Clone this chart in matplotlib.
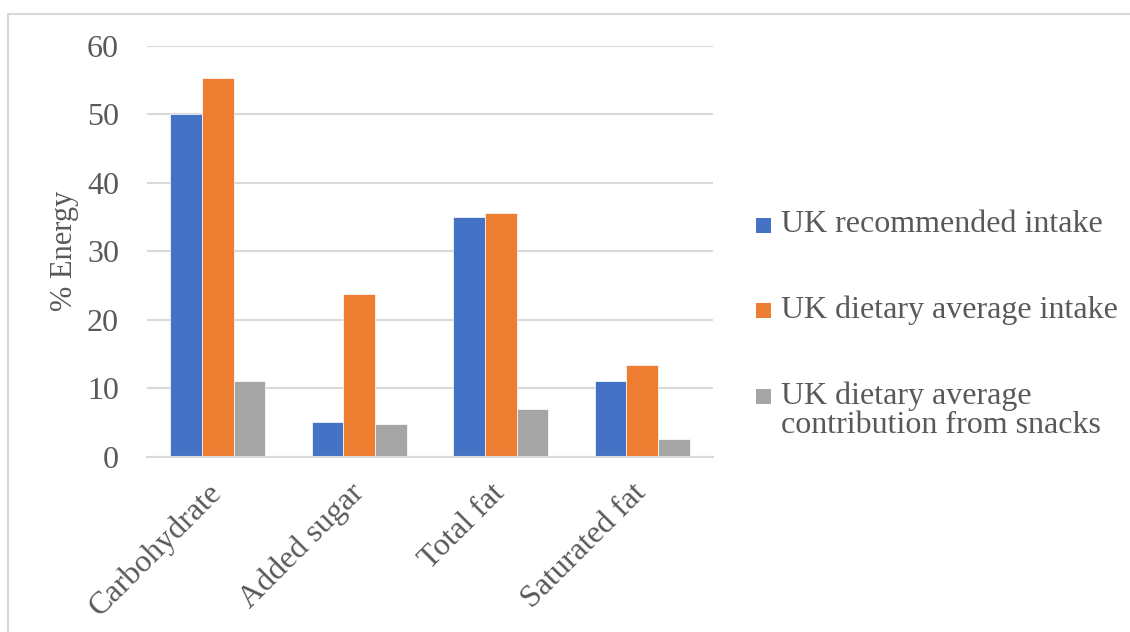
import numpy as np
import matplotlib.pyplot as plt
from matplotlib.patches import Rectangle

plt.rcParams["font.family"] = ["Liberation Serif", "DejaVu Serif"]

# -----------------------------
# Data (% of total energy)
# -----------------------------
nutrients = ["Carbohydrate", "Added sugar", "Total fat", "Saturated fat"]
series_names = [
    "UK recommended intake",
    "UK dietary average intake",
    "UK dietary average\ncontribution from snacks",
]
recommended = [50, 5, 35, 11]
average_intake = [55.3, 23.8, 35.6, 13.4]
from_snacks = [11.1, 4.7, 7.0, 2.6]

colors = ["#4472C4", "#ED7D31", "#A5A5A5"]
text_color = "#595959"
grid_color = "#D9D9D9"

fig = plt.figure(figsize=(11.3, 6.32), dpi=100)
ax = fig.add_axes([0.130, 0.2774, 0.501, 0.6503])

x = np.arange(len(nutrients))
width = 0.224
for i, (vals, col) in enumerate(zip([recommended, average_intake, from_snacks], colors)):
    ax.bar(x + (i - 1) * width, vals, width=width, color=col,
           edgecolor="white", linewidth=0.5, zorder=2)

ax.set_xlim(-0.5, len(nutrients) - 0.5)
ax.set_ylim(0, 60)
ax.set_yticks(range(0, 61, 10))
ax.yaxis.grid(True, color=grid_color, linewidth=1.5, zorder=0)
ax.set_axisbelow(True)
for side in ["top", "right", "left"]:
    ax.spines[side].set_visible(False)
ax.spines["bottom"].set_color(grid_color)
ax.spines["bottom"].set_linewidth(1.5)

ax.tick_params(axis="y", length=0, pad=20, labelsize=23, labelcolor=text_color)
ax.tick_params(axis="x", length=0, pad=23, labelsize=23, labelcolor=text_color)
ax.set_xticks(x)
ax.set_xticklabels(nutrients, rotation=45, ha="right", va="center",
                   rotation_mode="anchor")
ax.set_ylabel("% Energy", fontsize=22, color=text_color, labelpad=6)

# Legend built by hand so the marker sits on the first line of each label
W, H = fig.get_size_inches() * fig.dpi
sq = 15
leg_x = 756
leg_y = [225.5, 310.5, 396.5]
for name, col, yc in zip(series_names, colors, leg_y):
    fig.patches.append(Rectangle((leg_x / W, 1 - (yc + sq / 2) / H), sq / W, sq / H,
                                 transform=fig.transFigure, facecolor=col,
                                 edgecolor="none"))
    fig.text((leg_x + 25) / W, 1 - (yc - 15) / H, name, fontsize=23,
             color=text_color, va="top", ha="left", linespacing=1.0)

# Chart area border
fig.patches.append(Rectangle((8 / W, -0.1), 1.2, 1.1 - 14 / H,
                             transform=fig.transFigure, fill=False,
                             edgecolor=grid_color, linewidth=1.5))

plt.savefig("out.png", dpi=100)
